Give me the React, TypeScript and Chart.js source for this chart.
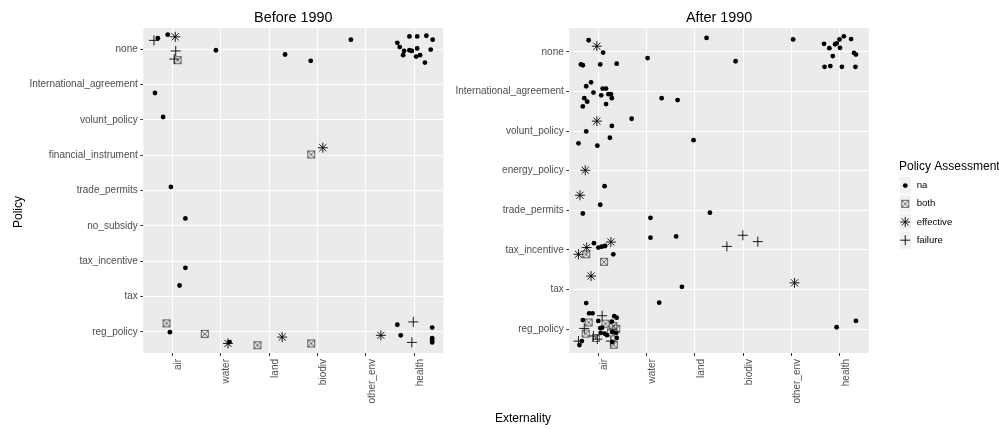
import { useEffect, useRef } from "react";
import { Chart, registerables } from "chart.js";

Chart.register(...registerables);

const FONT = "'Liberation Sans', Arial, Helvetica, sans-serif";

// Category labels
const externalities = ["air", "water", "land", "biodiv", "other_env", "health"];
const policiesBefore = [
  "reg_policy",
  "tax",
  "tax_incentive",
  "no_subsidy",
  "trade_permits",
  "financial_instrument",
  "volunt_policy",
  "International_agreement",
  "none",
];
const policiesAfter = [
  "reg_policy",
  "tax",
  "tax_incentive",
  "trade_permits",
  "energy_policy",
  "volunt_policy",
  "International_agreement",
  "none",
];
const assessments = ["na", "both", "effective", "failure"];

// Jittered observations: [externality position (air = 1), policy position (reg_policy = 1)]
type Pt = [number, number];

const beforeNa: Pt[] = [
  [0.7, 9.31], [0.905, 9.41], [1.9, 8.97], [3.33, 8.85], [3.86, 8.67], [4.69, 9.27],
  [5.65, 9.18], [5.7, 9.06], [5.79, 8.95], [5.77, 8.83], [5.9, 9.36], [5.9, 8.97],
  [5.95, 8.95], [6.06, 9.36], [6.06, 9.02], [6.04, 8.79], [6.12, 8.83], [6.22, 8.62],
  [6.25, 9.38], [6.34, 8.99], [6.38, 9.27],
  [0.64, 7.76], [0.81, 7.08], [0.97, 5.1], [1.27, 4.21], [1.27, 2.81], [1.15, 2.31],
  [0.95, 0.99], [2.18, 0.71], [5.65, 1.2], [5.72, 0.9], [6.37, 1.12], [6.37, 0.82],
  [6.37, 0.75], [6.37, 0.7],
];
const beforeBoth: Pt[] = [
  [1.11, 8.69], [3.87, 6.02], [0.88, 1.24], [1.67, 0.94], [2.76, 0.62], [3.87, 0.67],
];
const beforeEffective: Pt[] = [
  [1.06, 9.35], [4.11, 6.21], [2.15, 0.67], [3.27, 0.85], [5.31, 0.9],
];
const beforeFailure: Pt[] = [
  [0.62, 9.25], [1.07, 8.95], [1.04, 8.72], [5.98, 1.28], [5.95, 0.7],
];

const afterNa: Pt[] = [
  [0.8, 8.29], [1.1, 7.98], [3.24, 8.35], [5.03, 8.31], [3.84, 7.76], [2.02, 7.84],
  [0.64, 7.68], [0.68, 7.66], [1.04, 7.68], [1.38, 7.7],
  [5.67, 8.2], [5.78, 8.09], [5.9, 8.19], [5.93, 8.21], [5.99, 8.31], [6.0, 8.1],
  [6.08, 8.39], [6.23, 8.32], [5.85, 7.89], [6.29, 7.97], [6.33, 7.93], [5.68, 7.62],
  [5.8, 7.64], [6.04, 7.62], [6.32, 7.62],
  [0.85, 7.23], [0.75, 7.13], [0.9, 6.97], [1.09, 7.07], [1.16, 7.07], [1.06, 6.9],
  [1.21, 6.93], [1.26, 6.93], [1.28, 6.83], [0.71, 6.83], [0.77, 6.74], [0.68, 6.62],
  [1.16, 6.68], [2.31, 6.83], [2.64, 6.78],
  [1.69, 6.31], [1.28, 6.13], [0.75, 5.99], [1.24, 5.83], [0.59, 5.69], [0.98, 5.63],
  [2.97, 5.77],
  [1.13, 4.61], [1.04, 4.14],
  [0.68, 3.92], [2.08, 3.81], [3.31, 3.94],
  [2.08, 3.31], [2.61, 3.34], [0.91, 3.17], [1.0, 3.06], [1.07, 3.08], [1.14, 3.1],
  [1.31, 2.89],
  [2.73, 2.07], [2.26, 1.67],
  [0.75, 1.66], [5.93, 1.05], [6.33, 1.21], [0.81, 1.4], [0.88, 1.4], [0.68, 1.23],
  [1.0, 1.21], [1.33, 1.33], [1.38, 1.29], [1.28, 1.19], [1.04, 1.03], [1.08, 1.04],
  [1.05, 0.91], [1.13, 0.89], [1.18, 0.85], [1.29, 0.93], [1.37, 0.91], [1.38, 0.78],
  [1.29, 0.68], [0.66, 0.7], [0.61, 0.6],
];
const afterBoth: Pt[] = [
  [0.75, 2.89], [1.12, 2.7], [0.8, 1.17], [1.15, 1.14], [1.31, 1.08], [1.37, 1.01],
  [0.74, 0.89], [0.95, 0.78], [1.32, 0.61], [1.26, 0.92],
];
const afterEffective: Pt[] = [
  [0.97, 8.14], [0.97, 6.25], [0.73, 5.01], [0.62, 4.38], [1.26, 3.2], [0.76, 3.06],
  [0.59, 2.89], [0.85, 2.34], [5.06, 2.17],
];
const afterFailure: Pt[] = [
  [3.99, 3.37], [3.66, 3.09], [4.3, 3.21], [1.08, 1.34], [0.71, 1.02], [0.9, 0.83],
  [0.98, 0.75], [1.26, 0.7], [0.59, 0.7],
];

// Square-with-cross marker used for "both"
function makeBoxCross(): HTMLCanvasElement {
  const c = document.createElement("canvas");
  c.width = 10;
  c.height = 10;
  const g = c.getContext("2d")!;
  g.strokeStyle = "#3a3a3a";
  g.lineWidth = 0.75;
  g.strokeRect(1.5, 1.5, 7, 7);
  g.beginPath();
  g.moveTo(1.5, 1.5);
  g.lineTo(8.5, 8.5);
  g.moveTo(8.5, 1.5);
  g.lineTo(1.5, 8.5);
  g.stroke();
  return c;
}

const STAR_R = 5;
const CROSS_R = 5;
const DOT_R = 2.4;

function drawSymbol(ctx: CanvasRenderingContext2D, kind: string, x: number, y: number, box: HTMLCanvasElement) {
  ctx.save();
  ctx.strokeStyle = "#000";
  ctx.fillStyle = "#000";
  ctx.lineWidth = 0.9;
  if (kind === "na") {
    ctx.beginPath();
    ctx.arc(x, y, DOT_R, 0, Math.PI * 2);
    ctx.fill();
  } else if (kind === "both") {
    ctx.drawImage(box, x - box.width / 2, y - box.height / 2);
  } else if (kind === "effective") {
    const d = STAR_R * Math.SQRT1_2;
    ctx.beginPath();
    ctx.moveTo(x - STAR_R, y); ctx.lineTo(x + STAR_R, y);
    ctx.moveTo(x, y - STAR_R); ctx.lineTo(x, y + STAR_R);
    ctx.moveTo(x - d, y - d); ctx.lineTo(x + d, y + d);
    ctx.moveTo(x + d, y - d); ctx.lineTo(x - d, y + d);
    ctx.stroke();
  } else {
    ctx.beginPath();
    ctx.moveTo(x - CROSS_R, y); ctx.lineTo(x + CROSS_R, y);
    ctx.moveTo(x, y - CROSS_R); ctx.lineTo(x, y + CROSS_R);
    ctx.stroke();
  }
  ctx.restore();
}

const panelBackground = {
  id: "panelBackground",
  beforeDraw(chart: any) {
    const { ctx, chartArea: a } = chart;
    ctx.save();
    ctx.fillStyle = "#EBEBEB";
    ctx.fillRect(a.left, a.top, a.right - a.left, a.bottom - a.top);
    ctx.restore();
  },
};

function makeLegendPlugin(box: HTMLCanvasElement) {
  return {
    id: "assessmentLegend",
    afterDraw(chart: any) {
      const ctx: CanvasRenderingContext2D = chart.ctx;
      const x0 = chart.chartArea.right + 30;
      const top = 176.5;
      const h = 18.2;
      const w = 12.5;
      ctx.save();
      ctx.textBaseline = "middle";
      ctx.textAlign = "left";
      ctx.fillStyle = "#000";
      ctx.font = `12px ${FONT}`;
      ctx.fillText("Policy Assessment", x0, 166.5);
      assessments.forEach((name, i) => {
        const y = top + i * h;
        ctx.fillStyle = "#F2F2F2";
        ctx.fillRect(x0, y, w, h);
        ctx.strokeStyle = "#FFFFFF";
        ctx.lineWidth = 1;
        ctx.strokeRect(x0, y, w, h);
        drawSymbol(ctx, name, x0 + w / 2, y + h / 2, box);
        ctx.fillStyle = "#000";
        ctx.font = `9.6px ${FONT}`;
        ctx.fillText(name, x0 + 17.7, y + h / 2);
      });
      ctx.restore();
    },
  };
}

interface PanelSpec {
  title: string;
  policies: string[];
  na: Pt[];
  both: Pt[];
  effective: Pt[];
  failure: Pt[];
  axisWidth: number;
  padRight: number;
}

function buildChart(canvas: HTMLCanvasElement, spec: PanelSpec, box: HTMLCanvasElement, extra: any[]) {
  const toXY = (pts: Pt[]) => pts.map(([x, y]) => ({ x, y }));
  const tickFont = { family: FONT, size: 10 };
  return new Chart(canvas, {
    type: "scatter",
    data: {
      datasets: [
        {
          label: "na",
          data: toXY(spec.na),
          pointStyle: "circle",
          pointRadius: DOT_R,
          backgroundColor: "#000",
          borderColor: "#000",
          borderWidth: 0,
        },
        {
          label: "both",
          data: toXY(spec.both),
          pointStyle: box,
          pointRadius: 4,
          borderWidth: 0,
        },
        {
          label: "effective",
          data: toXY(spec.effective),
          pointStyle: "star",
          pointRadius: STAR_R,
          borderColor: "#000",
          borderWidth: 0.9,
        },
        {
          label: "failure",
          data: toXY(spec.failure),
          pointStyle: "cross",
          pointRadius: CROSS_R,
          borderColor: "#000",
          borderWidth: 0.9,
        },
      ] as any,
    },
    options: {
      responsive: false,
      maintainAspectRatio: false,
      animation: false,
      events: [],
      layout: { padding: { left: 0, right: spec.padRight, top: 0, bottom: 0 } },
      plugins: {
        legend: { display: false },
        tooltip: { enabled: false },
        title: {
          display: true,
          text: spec.title,
          fullSize: false,
          color: "#000",
          font: { family: FONT, size: 14.4, weight: "normal" },
          padding: { top: 9, bottom: 1.7 },
        },
      },
      scales: {
        x: {
          type: "linear",
          min: 0.4,
          max: 6.6,
          afterBuildTicks: (s: any) => {
            s.ticks = externalities.map((_, i) => ({ value: i + 1 }));
          },
          afterFit: (s: any) => {
            s.height = 76;
          },
          border: { display: false },
          grid: { color: "#FFFFFF", lineWidth: 1, tickColor: "#333333", tickLength: 3, tickWidth: 1 },
          ticks: {
            autoSkip: false,
            minRotation: 90,
            maxRotation: 90,
            labelOffset: 6,
            padding: 3,
            color: "#4D4D4D",
            font: tickFont,
            callback: (v: any) => externalities[Math.round(v) - 1],
          },
        },
        y: {
          type: "linear",
          min: 0.4,
          max: spec.policies.length + 0.6,
          afterBuildTicks: (s: any) => {
            s.ticks = spec.policies.map((_, i) => ({ value: i + 1 }));
          },
          afterFit: (s: any) => {
            s.width = spec.axisWidth;
          },
          border: { display: false },
          grid: { color: "#FFFFFF", lineWidth: 1, tickColor: "#333333", tickLength: 3, tickWidth: 1 },
          ticks: {
            autoSkip: false,
            padding: 2.5,
            color: "#4D4D4D",
            font: tickFont,
            callback: (v: any) => spec.policies[Math.round(v) - 1],
          },
        },
      },
    } as any,
    plugins: [panelBackground, ...extra],
  });
}

export default function App() {
  const leftRef = useRef<HTMLCanvasElement>(null);
  const rightRef = useRef<HTMLCanvasElement>(null);

  useEffect(() => {
    const box = makeBoxCross();
    const left = buildChart(
      leftRef.current!,
      {
        title: "Before 1990",
        policies: policiesBefore,
        na: beforeNa,
        both: beforeBoth,
        effective: beforeEffective,
        failure: beforeFailure,
        axisWidth: 143.3,
        padRight: 6.7,
      },
      box,
      []
    );
    const right = buildChart(
      rightRef.current!,
      {
        title: "After 1990",
        policies: policiesAfter,
        na: afterNa,
        both: afterBoth,
        effective: afterEffective,
        failure: afterFailure,
        axisWidth: 119.3,
        padRight: 130,
      },
      box,
      [makeLegendPlugin(box)]
    );
    return () => {
      left.destroy();
      right.destroy();
    };
  }, []);

  const label: any = {
    position: "absolute",
    font: `12px ${FONT}`,
    color: "#000",
    whiteSpace: "nowrap",
    lineHeight: "14px",
  };

  return (
    <div style={{ position: "absolute", left: 0, top: 0, width: 999, height: 429, background: "#fff", overflow: "hidden" }}>
      <canvas ref={leftRef} width={450} height={429} style={{ position: "absolute", left: 0, top: 0, width: 450, height: 429 }} />
      <canvas ref={rightRef} width={549} height={429} style={{ position: "absolute", left: 450, top: 0, width: 549, height: 429 }} />
      <div style={{ ...label, left: 17.5, top: 211.5, transform: "translate(-50%, -50%) rotate(-90deg)" }}>Policy</div>
      <div style={{ ...label, left: 523, top: 418, transform: "translate(-50%, -50%)" }}>Externality</div>
    </div>
  );
}
